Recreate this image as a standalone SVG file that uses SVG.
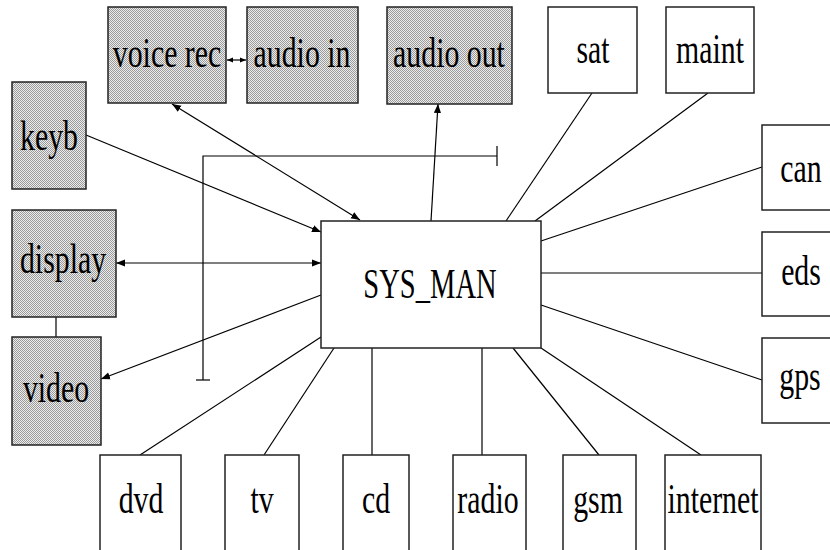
<svg xmlns="http://www.w3.org/2000/svg" width="830" height="550" viewBox="0 0 830 550">
<defs>
<pattern id="dots" width="2" height="2" patternUnits="userSpaceOnUse">
<rect width="2" height="2" fill="#ececec"/>
<rect width="1" height="1" fill="#9a9a9a"/>
<rect x="1" y="1" width="1" height="1" fill="#9a9a9a"/>
</pattern>
<marker id="ah" viewBox="0 0 10 10" refX="10" refY="5" markerWidth="9" markerHeight="9" markerUnits="userSpaceOnUse" orient="auto-start-reverse">
<path d="M0,1 L10,5 L0,9 Z" fill="#000"/>
</marker>
<marker id="ahs" viewBox="0 0 10 10" refX="10" refY="5" markerWidth="6" markerHeight="6" markerUnits="userSpaceOnUse" orient="auto-start-reverse">
<path d="M0,1 L10,5 L0,9 Z" fill="#000"/>
</marker>
</defs>
<style>
.box{fill:#fff;stroke:#222;stroke-width:1.5}
.gray{fill:url(#dots);stroke:#222;stroke-width:1.5}
.lbl{font-family:"Liberation Serif","Times New Roman",serif;font-size:42px;fill:#000;text-anchor:middle}
.c line,.c polyline{stroke:#000;stroke-width:1.2;fill:none}
</style>
<rect width="830" height="550" fill="#fff"/>
<g class="c" id="connectors">
<line x1="86" y1="135" x2="321" y2="232" marker-end="url(#ah)"/>
<line x1="172" y1="104" x2="360" y2="220" marker-start="url(#ah)" marker-end="url(#ah)"/>
<line x1="227" y1="60" x2="246" y2="60" marker-start="url(#ahs)" marker-end="url(#ahs)"/>
<line x1="431" y1="221" x2="438" y2="104" marker-end="url(#ah)"/>
<line x1="116" y1="263" x2="321" y2="263" marker-start="url(#ah)" marker-end="url(#ah)"/>
<line x1="321" y1="295" x2="101" y2="379" marker-end="url(#ah)"/>
<line x1="56" y1="317" x2="56" y2="337"/>
<polyline points="497,156 203,156 203,380"/>
<line x1="497" y1="146" x2="497" y2="166"/>
<line x1="196" y1="380" x2="210" y2="380"/>
<line x1="592" y1="93" x2="506" y2="221"/>
<line x1="708" y1="93" x2="535" y2="221"/>
<line x1="762" y1="167" x2="541" y2="241"/>
<line x1="541" y1="273" x2="762" y2="273"/>
<line x1="541" y1="305" x2="762" y2="380"/>
<line x1="321" y1="337" x2="140" y2="455"/>
<line x1="334" y1="348" x2="264" y2="455"/>
<line x1="372" y1="348" x2="372" y2="455"/>
<line x1="482" y1="348" x2="482" y2="455"/>
<line x1="513" y1="348" x2="599" y2="455"/>
<line x1="541" y1="348" x2="701" y2="455"/>
</g>
<g id="voice_rec"><rect class="gray" x="108" y="7" width="118" height="96"/><text class="lbl" transform="translate(167,67) scale(0.71,1)">voice rec</text></g>
<g id="audio_in"><rect class="gray" x="247" y="7" width="111" height="96"/><text class="lbl" transform="translate(302,67) scale(0.71,1)">audio in</text></g>
<g id="audio_out"><rect class="gray" x="387" y="7" width="125" height="97"/><text class="lbl" transform="translate(449,67) scale(0.71,1)">audio out</text></g>
<g id="keyb"><rect class="gray" x="12" y="82" width="74" height="107"/><text class="lbl" transform="translate(49,150) scale(0.71,1)">keyb</text></g>
<g id="display"><rect class="gray" x="12" y="210" width="104" height="107"/><text class="lbl" transform="translate(63,273) scale(0.71,1)">display</text></g>
<g id="video"><rect class="gray" x="12" y="337" width="89" height="108"/><text class="lbl" transform="translate(56,402) scale(0.71,1)">video</text></g>
<g id="sys_man"><rect class="box" x="321" y="221" width="220" height="127"/><text class="lbl" transform="translate(430,298) scale(0.68,1)">SYS_MAN</text></g>
<g id="sat"><rect class="box" x="548" y="7" width="89" height="86"/><text class="lbl" transform="translate(593,63) scale(0.71,1)">sat</text></g>
<g id="maint"><rect class="box" x="666" y="7" width="88" height="86"/><text class="lbl" transform="translate(710,63) scale(0.71,1)">maint</text></g>
<g id="can"><rect class="box" x="762" y="125" width="80" height="85"/><text class="lbl" transform="translate(801,182) scale(0.71,1)">can</text></g>
<g id="eds"><rect class="box" x="762" y="232" width="80" height="84"/><text class="lbl" transform="translate(801,285) scale(0.71,1)">eds</text></g>
<g id="gps"><rect class="box" x="762" y="338" width="80" height="85"/><text class="lbl" transform="translate(800,390) scale(0.71,1)">gps</text></g>
<g id="dvd"><rect class="box" x="100" y="455" width="81" height="105"/><text class="lbl" transform="translate(141,513) scale(0.71,1)">dvd</text></g>
<g id="tv"><rect class="box" x="225" y="455" width="74" height="105"/><text class="lbl" transform="translate(262,513) scale(0.71,1)">tv</text></g>
<g id="cd"><rect class="box" x="343" y="455" width="66" height="105"/><text class="lbl" transform="translate(376,513) scale(0.71,1)">cd</text></g>
<g id="radio"><rect class="box" x="453" y="455" width="73" height="105"/><text class="lbl" transform="translate(488,513) scale(0.71,1)">radio</text></g>
<g id="gsm"><rect class="box" x="563" y="455" width="73" height="105"/><text class="lbl" transform="translate(598,513) scale(0.71,1)">gsm</text></g>
<g id="internet"><rect class="box" x="665" y="455" width="96" height="105"/><text class="lbl" transform="translate(713,513) scale(0.71,1)">internet</text></g>
</svg>
